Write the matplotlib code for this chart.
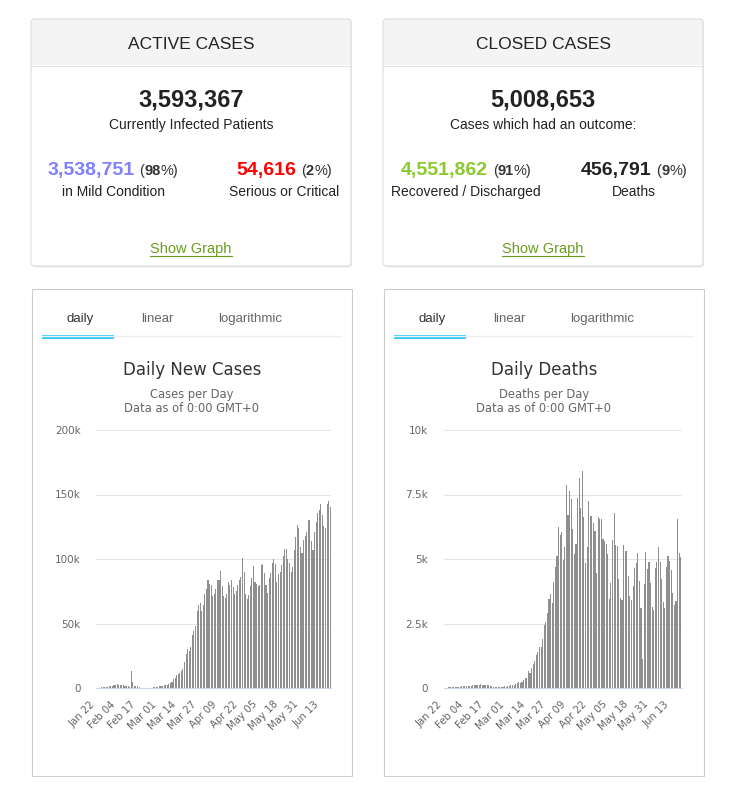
import matplotlib
matplotlib.use("Agg")
import matplotlib.pyplot as plt
from matplotlib.patches import FancyBboxPatch, Rectangle

# ---- data (daily values in thousands, Jan 22 .. Jun 19) ----
new_cases_k = [
    0.1, 0.1, 0.3, 0.4, 0.5, 0.7, 0.8, 1.0, 1.2, 1.5,
    1.7, 2.2, 2.6, 2.8, 2.5, 2.3, 2.0, 2.2, 1.8, 1.6,
    1.3, 1.0, 13.5, 5.0, 1.8, 1.5, 1.6, 0.9, 0.3, 0.2,
    0.2, 0.1, 0.1, 0.1, 0.1, 0.2, 0.6, 1.0, 1.1, 0.9,
    1.2, 1.3, 1.7, 2.0, 2.1, 2.6, 3.2, 4.0, 4.5, 7.0,
    8.0, 10.0, 10.5, 12.0, 13.0, 15.0, 20.0, 26.0, 30.0, 29.0,
    32.0, 41.0, 44.0, 48.0, 60.0, 64.0, 66.0, 60.0, 64.0, 73.0,
    77.0, 84.0, 81.0, 80.0, 71.0, 73.0, 77.0, 84.0, 84.0, 91.0,
    79.0, 71.0, 70.0, 73.0, 82.0, 80.0, 84.0, 78.0, 73.0, 75.0,
    80.0, 84.0, 86.0, 101.0, 90.0, 73.0, 69.0, 72.0,
    79, 85, 94.6, 82, 81, 79, 80, 95, 96, 89,
    80, 74, 85.5, 89, 96.6, 99.7, 96, 82, 88, 90,
    95, 102, 107.5, 107.5, 100, 97, 90, 93.5, 107, 117,
    126, 124, 109.5, 105, 115, 118, 121, 130, 130, 114,
    107, 121, 129, 136, 138, 142.6, 134, 125.6, 124, 143,
    145, 140,
]
new_deaths_k = [
    0.01, 0.01, 0.01, 0.02, 0.02, 0.03, 0.03, 0.03, 0.04, 0.04,
    0.05, 0.06, 0.06, 0.07, 0.07, 0.07, 0.08, 0.09, 0.10, 0.11,
    0.10, 0.10, 0.12, 0.14, 0.11, 0.10, 0.10, 0.10, 0.11, 0.09,
    0.06, 0.05, 0.04, 0.03, 0.02, 0.02, 0.03, 0.05, 0.06, 0.05,
    0.07, 0.08, 0.10, 0.10, 0.12, 0.16, 0.18, 0.22, 0.20,
    0.25, 0.30, 0.40, 0.37, 0.67, 0.60, 0.76, 0.93, 1.05, 1.28,
    1.40, 1.58, 1.58, 1.90, 2.45, 2.55, 2.90, 3.45, 3.63, 3.30,
    4.10, 4.68, 5.13, 6.23, 5.93, 6.05, 4.96, 5.48, 7.87, 6.70,
    7.64, 7.31, 6.15, 5.18, 5.60, 7.35, 8.13, 6.96, 8.41, 6.64,
    4.83, 5.45, 7.25, 6.67, 6.67, 6.41, 6.08, 4.44, 6.64, 6.54,
    6.55, 5.78, 5.70, 5.58, 5.19, 3.45, 4.08, 5.74, 6.80, 5.53, 5.50,
    4.24, 3.50, 3.41, 5.54, 5.31, 5.32, 4.34, 3.58, 3.41, 3.95,
    4.64, 4.86, 5.22, 4.15, 3.11, 1.12, 4.02, 5.28, 4.61, 4.88,
    4.08, 3.15, 3.02, 4.66, 4.88, 5.45, 4.88, 4.24, 3.33, 3.11,
    4.69, 5.12, 4.92, 4.57, 3.67, 3.23, 3.37, 6.55, 5.25, 5.06,
]
tick_labels = ["Jan 22", "Feb 04", "Feb 17", "Mar 01", "Mar 14", "Mar 27",
               "Apr 09", "Apr 22", "May 05", "May 18", "May 31", "Jun 13"]
tick_step = 13

cases_ticks = [0, 50, 100, 150, 200]
cases_tick_labels = ["0", "50k", "100k", "150k", "200k"]
deaths_ticks = [0, 2.5, 5, 7.5, 10]
deaths_tick_labels = ["0", "2.5k", "5k", "7.5k", "10k"]

W, H = 734, 798
fig = plt.figure(figsize=(W / 100, H / 100), dpi=100)
bg = fig.add_axes([0, 0, 1, 1])
bg.set_xlim(0, W)
bg.set_ylim(H, 0)
bg.axis("off")
renderer = fig.canvas.get_renderer()

SANS = "Liberation Sans"
CHART = "DejaVu Sans"


def rich(x, y, parts):
    # parts: list of (text, kwargs, gap before); drawn left to right, centred on x
    texts, widths, gaps = [], [], []
    for s, kw, gap in parts:
        t = bg.text(0, y, s, va="baseline", ha="left", family=SANS, **kw)
        texts.append(t)
        widths.append(t.get_window_extent(renderer).width)
        gaps.append(gap)
    total = sum(widths) + sum(gaps)
    pos = x - total / 2
    for t, w, g in zip(texts, widths, gaps):
        pos += g
        t.set_x(pos)
        pos += w


def stat_card(x0, title, total, sub, left, right):
    w, h = 320, 247
    y0 = 19
    bg.add_patch(FancyBboxPatch((x0 + 1, y0 + 1.5), w, h, boxstyle="round,pad=0,rounding_size=3",
                                fc="#ececec", ec="none", zorder=1))
    bg.add_patch(FancyBboxPatch((x0, y0), w, h, boxstyle="round,pad=0,rounding_size=3",
                                fc="white", ec="none", zorder=2))
    bg.add_patch(FancyBboxPatch((x0, y0), w, 46, boxstyle="round,pad=0,rounding_size=3",
                                fc="#f4f4f4", ec="none", zorder=3))
    bg.add_patch(Rectangle((x0, y0 + 30), w, 16, fc="#f4f4f4", ec="none", zorder=3))
    bg.plot([x0, x0 + w], [y0 + 46.5, y0 + 46.5], color="#e3e3e3", lw=0.8, zorder=4)
    bg.add_patch(FancyBboxPatch((x0, y0), w, h, boxstyle="round,pad=0,rounding_size=3",
                                fc="none", ec="#dddddd", lw=0.8, zorder=5))
    cx = x0 + w / 2
    bg.text(cx, 49, title, ha="center", va="baseline", family=SANS, fontsize=12.5, color="#222222")
    bg.text(cx, 106.3, total, ha="center", va="baseline", family=SANS, fontsize=17,
            fontweight="bold", color="#222222")
    bg.text(cx, 129, sub, ha="center", va="baseline", family=SANS, fontsize=10, color="#222222")
    for (num, col, pct, label, xc) in (left, right):
        rich(xc, 174.7, [(num, dict(fontsize=14, fontweight="bold", color=col), 0),
                         ("(", dict(fontsize=10.5, color="#333333"), 5),
                         (pct, dict(fontsize=10.5, fontweight="bold", color="#333333"), 0),
                         ("%)", dict(fontsize=10.5, color="#333333"), 0)])
        bg.text(xc, 195.7, label, ha="center", va="baseline", family=SANS, fontsize=10, color="#222222")
    t = bg.text(cx, 253.3, "Show Graph", ha="center", va="baseline", family=SANS,
                fontsize=10.5, color="#6a9c1f")
    bb = t.get_window_extent(renderer)
    bg.plot([bb.x0, bb.x1], [255.8, 255.8], color="#6a9c1f", lw=0.8)


stat_card(31, "ACTIVE CASES", "3,593,367", "Currently Infected Patients",
          ("3,538,751", "#8080ff", "98", "in Mild Condition", 113),
          ("54,616", "#ff0000", "2", "Serious or Critical", 284))
stat_card(383, "CLOSED CASES", "5,008,653", "Cases which had an outcome:",
          ("4,551,862", "#8aca2b", "91", "Recovered / Discharged", 466),
          ("456,791", "#222222", "9", "Deaths", 634))


def chart_card(x0, title, sub, rect, values, ticks, tlabels, ymax):
    bg.add_patch(Rectangle((x0 + 0.5, 288.5), 320, 487, fc="white", ec="#cccccc", lw=0.8))
    bg.plot([x0 + 11, x0 + 310], [335.5, 335.5], color="#eeeeee", lw=1)
    bg.add_patch(Rectangle((x0 + 11, 335), 72, 3.5, fc="#33ccff", ec="none"))
    for label, dx, col in (("daily", 49, "#333333"), ("linear", 126, "#666666"),
                           ("logarithmic", 219, "#666666")):
        bg.text(x0 + dx, 321.7, label, ha="center", va="baseline", family=SANS,
                fontsize=9.5, color=col)
    cx = x0 + 161
    bg.text(cx, 375, title, ha="center", va="baseline", family=CHART, fontsize=12, color="#333333")
    bg.text(cx, 398.3, sub, ha="center", va="baseline", family=CHART, fontsize=8.3, color="#666666")
    bg.text(cx, 412.3, "Data as of 0:00 GMT+0", ha="center", va="baseline", family=CHART,
            fontsize=8.3, color="#666666")

    ax = fig.add_axes(rect)
    ax.patch.set_alpha(0)
    n = len(values)
    ax.bar(range(n), values, width=0.7, color="#8f8f8f", linewidth=0)
    ax.set_xlim(-0.5, n - 0.5)
    ax.set_ylim(0, ymax)
    ax.set_yticks(ticks)
    ax.set_yticklabels(tlabels)
    ax.set_xticks(range(0, n, tick_step)[:len(tick_labels)])
    ax.set_xticklabels(tick_labels, rotation=45, ha="right", va="top")
    for s in ("top", "right", "left"):
        ax.spines[s].set_visible(False)
    ax.spines["bottom"].set_color("#ccd6eb")
    ax.spines["bottom"].set_linewidth(0.8)
    ax.yaxis.grid(True, color="#e6e6e6", lw=0.75)
    ax.set_axisbelow(True)
    ax.tick_params(axis="y", length=0, pad=11, labelsize=7.5, labelcolor="#666666")
    ax.tick_params(axis="x", length=0, pad=8, labelsize=7.3, labelcolor="#666666")
    for t in ax.get_xticklabels() + ax.get_yticklabels():
        t.set_family(CHART)
    return ax


chart_card(31, "Daily New Cases", "Cases per Day",
           [96 / W, 1 - 688 / H, 235 / W, 258 / H], new_cases_k,
           cases_ticks, cases_tick_labels, 200)
chart_card(383, "Daily Deaths", "Deaths per Day",
           [443.5 / W, 1 - 688 / H, 238 / W, 258 / H], new_deaths_k,
           deaths_ticks, deaths_tick_labels, 10)

fig.savefig("out.png", dpi=100, facecolor="white")
